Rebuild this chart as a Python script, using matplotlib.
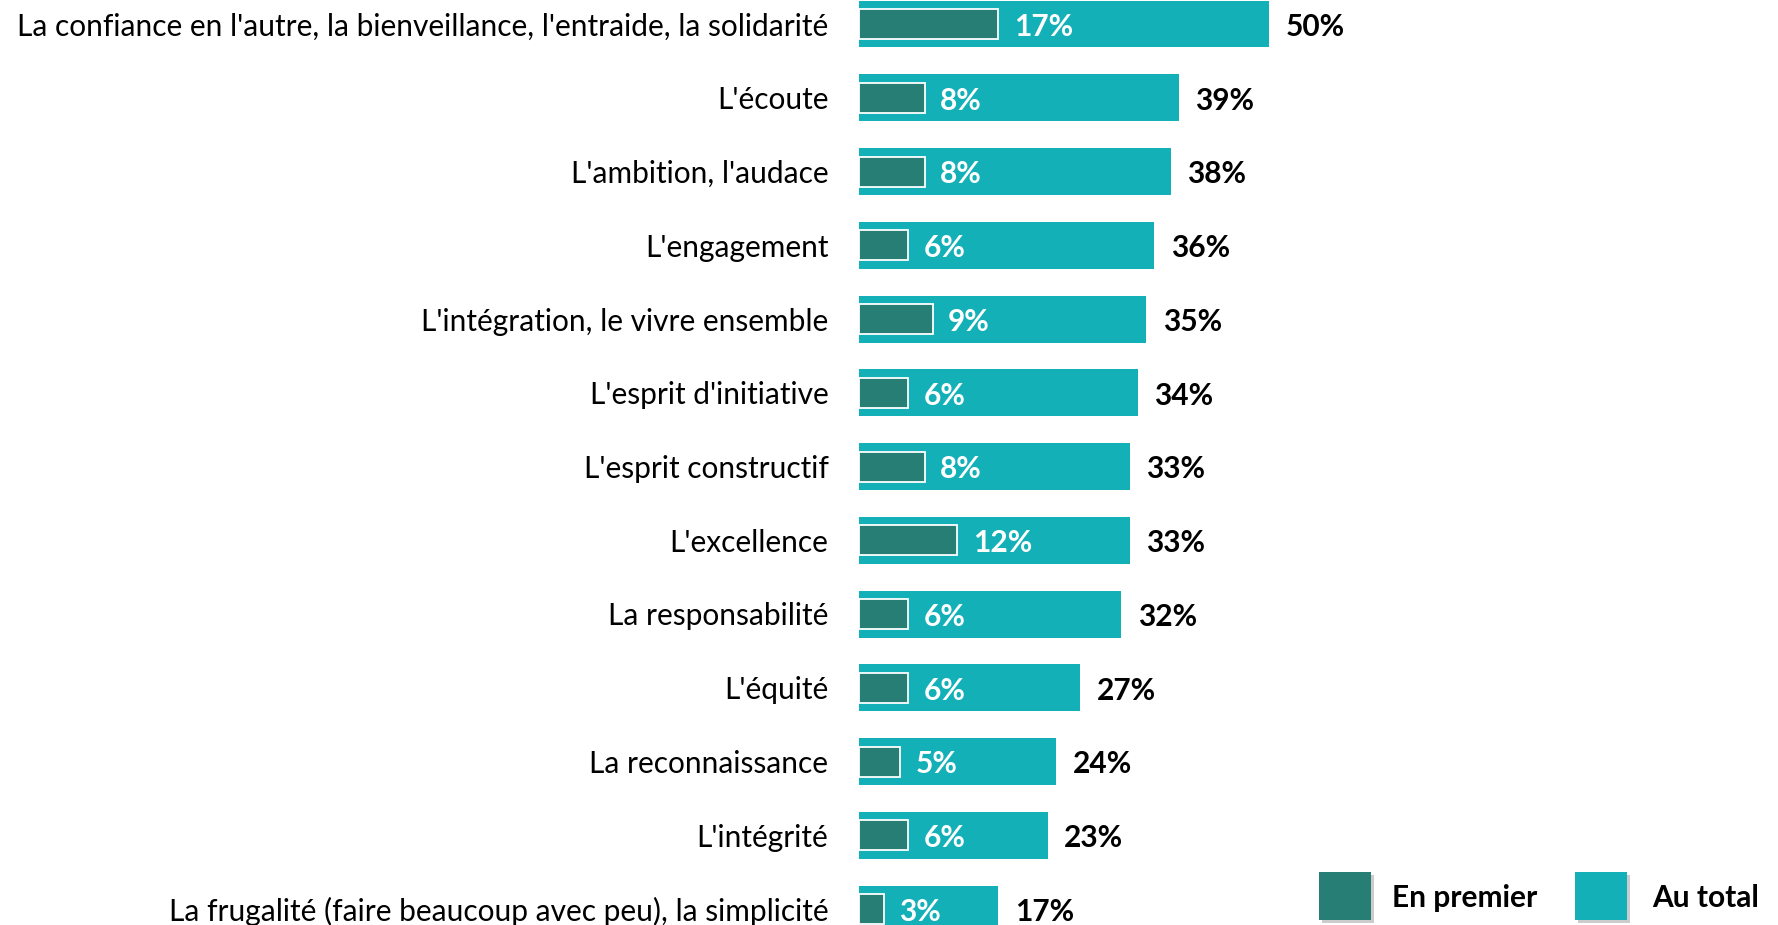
import matplotlib.pyplot as plt
import matplotlib.patches as patches

plt.rcParams['font.family'] = ['Lato', 'DejaVu Sans']

# Data
categories = [
    "La confiance en l'autre, la bienveillance, l'entraide, la solidarité",
    "L'écoute",
    "L'ambition, l'audace",
    "L'engagement",
    "L'intégration, le vivre ensemble",
    "L'esprit d'initiative",
    "L'esprit constructif",
    "L'excellence",
    "La responsabilité",
    "L'équité",
    "La reconnaissance",
    "L'intégrité",
    "La frugalité (faire beaucoup avec peu), la simplicité",
]
au_total = [50, 39, 38, 36, 35, 34, 33, 33, 32, 27, 24, 23, 17]
en_premier = [17, 8, 8, 6, 9, 6, 8, 12, 6, 6, 5, 6, 3]
legend_labels = ["En premier", "Au total"]

dark = "#267E74"
teal = "#14B0B8"
fs = 21.5

W, H = 1778, 925
fig = plt.figure(figsize=(W / 100, H / 100), dpi=100)

# axes: bars start at x=859px, 8.2 px per percent
x0 = 859 / W
ax = fig.add_axes([x0, 0, 820 / W, 1])
ax.set_xlim(0, 100)
pitch = 73.75
ax.set_ylim((H - 24) / pitch, -24 / pitch)

ypos = list(range(len(categories)))
ax.barh(ypos, au_total, height=47 / pitch, color=teal, linewidth=0)
ax.barh(ypos, en_premier, height=30 / pitch, color=dark, edgecolor="white", linewidth=1.3)

for y, t, p in zip(ypos, au_total, en_premier):
    ax.annotate(f"{t}%", (t, y), xytext=(12, -2), textcoords="offset points",
                va="center", ha="left", fontsize=fs, fontweight="bold", color="black")
    ax.annotate(f"{p}%", (p, y), xytext=(11, -2), textcoords="offset points",
                va="center", ha="left", fontsize=fs, fontweight="bold", color="white")

ax.set_yticks(ypos)
ax.set_yticklabels(categories, fontsize=fs, color="black")
ax.tick_params(axis="y", length=0, pad=22)
ax.set_xticks([])
for s in ax.spines.values():
    s.set_visible(False)

# legend
sq_w, sq_h = 52 / W, 48 / H
for xs, xt, col, lab in [(1319, 1392, dark, legend_labels[0]), (1575, 1652, teal, legend_labels[1])]:
    shadow = patches.Rectangle((xs / W + 3 / W, 5 / H - 3 / H), sq_w, sq_h, transform=fig.transFigure,
                               facecolor="#9a9a9a", alpha=0.5, linewidth=0)
    sq = patches.Rectangle((xs / W, 5 / H), sq_w, sq_h, transform=fig.transFigure,
                           facecolor=col, linewidth=0)
    fig.patches.extend([shadow, sq])
    fig.text(xt / W, (H - 898) / H, lab, fontsize=fs, fontweight="bold", va="center", ha="left")

fig.savefig("out.png", dpi=100)
